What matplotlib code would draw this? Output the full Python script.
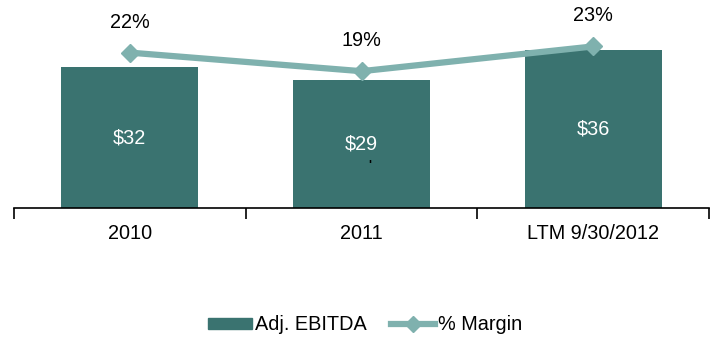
import numpy as np
import matplotlib.pyplot as plt
from matplotlib.lines import Line2D
from matplotlib.patches import Patch

plt.rcParams['font.family'] = ['Liberation Sans', 'DejaVu Sans']

categories = ['2010', '2011', 'LTM 9/30/2012']
ebitda = [32, 29, 36]
margin = [22, 19, 23]

bar_color = '#3a7370'
line_color = '#7fb1ae'
fs = 14.3

fig = plt.figure(figsize=(7.17, 3.37), dpi=100)
ax = fig.add_axes([14/717, 1 - 208/337, 695/717, 208/337])
x = np.arange(len(categories))

ax.bar(x, ebitda, width=0.59, color=bar_color, zorder=2)
for i, v in enumerate(ebitda):
    ax.text(x[i], v / 2, '$%d' % v, color='white', ha='center', va='center', fontsize=fs)

ax.set_xlim(-0.5, 2.5)
ax.set_ylim(0, 47.3)
ax.set_xticks([-0.5, 0.5, 1.5, 2.5])
ax.set_xticklabels([])
ax.tick_params(axis='x', length=8, width=1.2, direction='out')
for i, c in enumerate(categories):
    ax.text(x[i], -5.7, c, ha='center', va='center', fontsize=fs)
ax.set_yticks([])
for s in ['top', 'right', 'left']:
    ax.spines[s].set_visible(False)
ax.spines['bottom'].set_linewidth(1.2)

ax2 = ax.twinx()
ax2.plot(x, margin, color=line_color, linewidth=4.5, marker='D', markersize=9, zorder=3)
ax2.set_ylim(-3.1, 30.5)
ax2.set_yticks([])
for s in ['top', 'right', 'left', 'bottom']:
    ax2.spines[s].set_visible(False)
for i, m in enumerate(margin):
    ax2.annotate('%d%%' % m, (x[i], m), xytext=(0, 22), textcoords='offset points',
                 ha='center', va='center', fontsize=fs)

# small stray mark in the 2011 bar
ax.text(1.036, 9.6, "'", ha='center', va='center', fontsize=9, fontweight='bold', color='black')

handles = [Patch(color=bar_color, label='Adj. EBITDA'),
           Line2D([0], [0], color=line_color, linewidth=4.5, marker='D', markersize=8, label='% Margin')]
fig.legend(handles=handles, loc='center', bbox_to_anchor=(365/717, 1 - 325/337), ncol=2, frameon=False,
           fontsize=fs, handlelength=2.2, handleheight=0.45, handletextpad=0.15, columnspacing=1.25)

fig.savefig('out.png', dpi=100)
